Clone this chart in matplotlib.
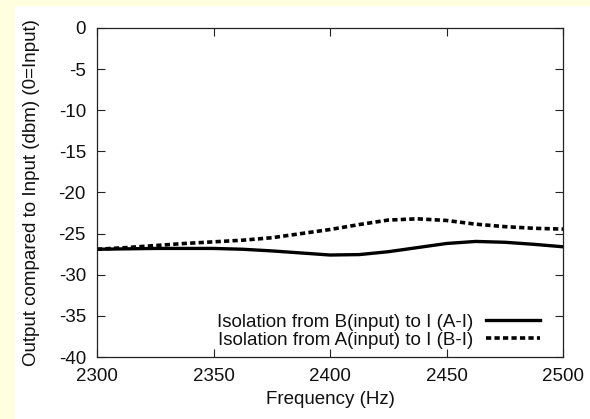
import matplotlib
matplotlib.use("Agg")
import matplotlib.pyplot as plt
from matplotlib.patches import Rectangle

freq = [2300, 2312.5, 2325, 2337.5, 2350, 2362.5, 2375, 2387.5, 2400,
        2412.5, 2425, 2437.5, 2450, 2462.5, 2475, 2487.5, 2500]
iso_a_i = [-26.9, -26.85, -26.8, -26.8, -26.8, -26.9, -27.1, -27.35, -27.6,
           -27.55, -27.2, -26.7, -26.2, -25.95, -26.05, -26.3, -26.6]
iso_b_i = [-26.9, -26.7, -26.45, -26.2, -26.0, -25.8, -25.5, -25.0, -24.5,
           -23.9, -23.35, -23.2, -23.4, -23.85, -24.15, -24.35, -24.45]
label_a = "Isolation from B(input) to I (A-I)"
label_b = "Isolation from A(input) to I (B-I)"
xticks = [2300, 2350, 2400, 2450, 2500]
yticks = [0, -5, -10, -15, -20, -25, -30, -35, -40]

plt.rcParams['font.family'] = ['Liberation Sans', 'DejaVu Sans']
plt.rcParams['axes.unicode_minus'] = False
FS = 13.5

W, H = 590, 419
fig = plt.figure(figsize=(W / 100, H / 100), dpi=100)
fig.patch.set_facecolor('#FFFFE0')
fig.patches.append(Rectangle((15 / W, 0), 1, 1 - 6 / H, transform=fig.transFigure,
                             facecolor='white', edgecolor='none', zorder=-10))

ax = fig.add_axes([97 / W, 1 - 357 / H, (563 - 97) / W, (357 - 28) / H])
ax.plot(freq, iso_a_i, color='black', lw=2.4, label=label_a)
ax.plot(freq, iso_b_i, color='black', lw=2.6, dashes=(1.45, 0.9), label=label_b)

ax.set_xlim(2300, 2500)
ax.set_ylim(-40, 0)
ax.set_xticks(xticks)
ax.set_yticks(yticks)
ax.tick_params(direction='in', length=6, width=0.8, top=True, right=True,
               labelsize=FS, color='#222222', labelcolor='#111111')
ax.tick_params(axis='y', pad=8)
ax.tick_params(axis='x', pad=8)
for s in ax.spines.values():
    s.set_linewidth(0.9)
    s.set_color('#222222')

ax.set_xlabel("Frequency (Hz)", fontsize=FS, labelpad=4, color='#111111')
ax.set_ylabel("Output compared to Input (dbm) (0=Input)", fontsize=FS,
              labelpad=13, color='#111111')

leg = ax.legend(loc='lower right', frameon=False, markerfirst=False, fontsize=FS,
                handlelength=2.9, labelspacing=0.02, handletextpad=0.65,
                borderpad=0, borderaxespad=0,
                bbox_to_anchor=((540 - 97) / 466, (357 - 348.5) / 329))
for t in leg.get_texts():
    t.set_color('#111111')

fig.savefig("out.png", dpi=100, facecolor=fig.get_facecolor())
